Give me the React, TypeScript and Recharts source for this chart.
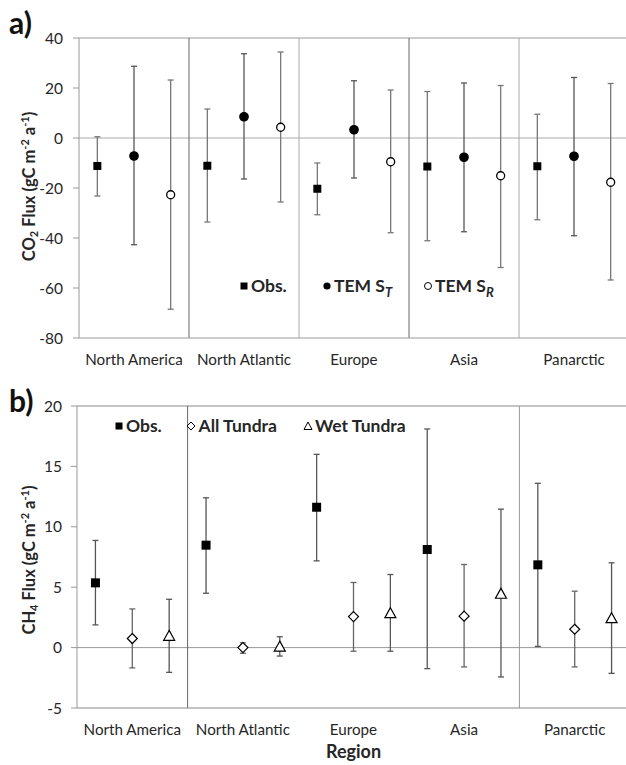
import React from 'react';
import { ScatterChart, Scatter, XAxis, YAxis, ErrorBar, ReferenceLine } from 'recharts';

const regions = ['North America', 'North Atlantic', 'Europe', 'Asia', 'Panarctic'];

// Panel a: CO2 flux
const co2Ticks = [-80, -60, -40, -20, 0, 20, 40];
const co2Obs = [-11.2, -11.1, -20.3, -11.4, -11.3];
const co2ObsLow = [-23.2, -33.6, -30.7, -41.1, -32.7];
const co2ObsHigh = [0.5, 11.6, -10.0, 18.6, 9.5];
const co2TemST = [-7.2, 8.5, 3.3, -7.7, -7.3];
const co2TemSTLow = [-42.7, -16.4, -16.0, -37.5, -39.1];
const co2TemSTHigh = [28.7, 33.7, 22.9, 22.0, 24.2];
const co2TemSR = [-22.7, 4.3, -9.5, -15.1, -17.7];
const co2TemSRLow = [-68.5, -25.6, -37.9, -51.8, -56.8];
const co2TemSRHigh = [23.2, 34.4, 19.2, 21.0, 21.8];

// Panel b: CH4 flux
const ch4Ticks = [-5, 0, 5, 10, 15, 20];
const ch4Obs = [5.36, 8.48, 11.62, 8.12, 6.85];
const ch4ObsLow = [1.88, 4.5, 7.18, -1.74, 0.1];
const ch4ObsHigh = [8.87, 12.4, 16.0, 18.1, 13.6];
const ch4All = [0.75, 0.0, 2.57, 2.6, 1.52];
const ch4AllLow = [-1.68, -0.47, -0.3, -1.6, -1.6];
const ch4AllHigh = [3.2, 0.4, 5.39, 6.88, 4.67];
const ch4Wet = [0.97, 0.08, 2.84, 4.45, 2.43];
const ch4WetLow = [-2.05, -0.7, -0.3, -2.43, -2.13];
const ch4WetHigh = [4.0, 0.9, 6.05, 11.46, 7.02];

const FONT = 'Lato, "Open Sans", sans-serif';
const TEXT = '#262626';

function build(values: number[], lows: number[], highs: number[], offset: number) {
  return values.map((v, i) => ({ x: i + offset, y: v, err: [v - lows[i], highs[i] - v] }));
}

const squareShape = (size: number) => (p: any) => (
  <rect x={p.cx - size / 2} y={p.cy - size / 2} width={size} height={size} fill="#000" />
);
const dotShape = (r: number, filled: boolean) => (p: any) => (
  <circle cx={p.cx} cy={p.cy} r={r} fill={filled ? '#000' : '#fff'} stroke="#000" strokeWidth={1.3} />
);
const diamondShape = (r: number) => (p: any) => (
  <path
    d={`M${p.cx},${p.cy - r}L${p.cx + r},${p.cy}L${p.cx},${p.cy + r}L${p.cx - r},${p.cy}Z`}
    fill="#fff"
    stroke="#000"
    strokeWidth={1.2}
  />
);
const triangleShape = (r: number) => (p: any) => (
  <path
    d={`M${p.cx},${p.cy - r}L${p.cx + r},${p.cy + r * 0.8}L${p.cx - r},${p.cy + r * 0.8}Z`}
    fill="#fff"
    stroke="#000"
    strokeWidth={1.2}
  />
);

const xTickStyle = { fontSize: 15.2, fill: TEXT, fontFamily: FONT };
const yTickStyle = { fontSize: 15.5, fill: TEXT, fontFamily: FONT };

function PanelA() {
  return (
    <ScatterChart width={640} height={375} margin={{ top: 38, right: 11, bottom: 7, left: 0 }}>
      <XAxis
        type="number"
        dataKey="x"
        domain={[-0.5, 4.5]}
        ticks={[0, 1, 2, 3, 4]}
        interval={0}
        tickFormatter={(v: number) => regions[v]}
        axisLine={{ stroke: '#999' }}
        tickLine={false}
        tickMargin={10}
        tick={xTickStyle}
        height={30}
        allowDataOverflow
      />
      <YAxis
        type="number"
        dataKey="y"
        domain={[-80, 40]}
        ticks={co2Ticks}
        interval={0}
        width={79}
        axisLine={{ stroke: '#999' }}
        tickLine={{ stroke: '#999' }}
        tickSize={6}
        tickMargin={10}
        tick={yTickStyle}
        allowDataOverflow
      />
      <ReferenceLine y={40} stroke="#999" />
      <ReferenceLine y={0} stroke="#aaa" />
      <ReferenceLine x={0.5} stroke="#666" />
      <ReferenceLine x={1.5} stroke="#aaa" />
      <ReferenceLine x={2.5} stroke="#666" />
      <ReferenceLine x={3.5} stroke="#aaa" />
      <Scatter data={build(co2Obs, co2ObsLow, co2ObsHigh, -1 / 3)} shape={squareShape(8)} isAnimationActive={false}>
        <ErrorBar dataKey="err" direction="y" width={3} stroke="#777" strokeWidth={1.3} />
      </Scatter>
      <Scatter data={build(co2TemST, co2TemSTLow, co2TemSTHigh, 0)} shape={dotShape(4.2, true)} isAnimationActive={false}>
        <ErrorBar dataKey="err" direction="y" width={3} stroke="#555" strokeWidth={1.3} />
      </Scatter>
      <Scatter data={build(co2TemSR, co2TemSRLow, co2TemSRHigh, 1 / 3)} shape={dotShape(4, false)} isAnimationActive={false}>
        <ErrorBar dataKey="err" direction="y" width={3} stroke="#777" strokeWidth={1.3} />
      </Scatter>
    </ScatterChart>
  );
}

function PanelB() {
  return (
    <ScatterChart width={640} height={390} margin={{ top: 31, right: 10, bottom: 7, left: 0 }}>
      <XAxis
        type="number"
        dataKey="x"
        domain={[-0.5, 4.5]}
        ticks={[0, 1, 2, 3, 4]}
        interval={0}
        tickFormatter={(v: number) => regions[v]}
        axisLine={{ stroke: '#888' }}
        tickLine={false}
        tickMargin={10}
        tick={xTickStyle}
        height={50}
        allowDataOverflow
        label={{ value: 'Region', position: 'insideBottom', offset: 0, fill: TEXT, fontSize: 18, fontWeight: 700, fontFamily: FONT }}
      />
      <YAxis
        type="number"
        dataKey="y"
        domain={[-5, 20]}
        ticks={ch4Ticks}
        interval={0}
        width={77}
        axisLine={{ stroke: '#999' }}
        tickLine={{ stroke: '#999' }}
        tickSize={6}
        tickMargin={9}
        tick={yTickStyle}
        allowDataOverflow
      />
      <ReferenceLine y={20} stroke="#888" />
      <ReferenceLine y={0} stroke="#999" />
      <ReferenceLine x={0.5} stroke="#666" />
      <ReferenceLine x={3.5} stroke="#999" />
      <Scatter data={build(ch4Obs, ch4ObsLow, ch4ObsHigh, -1 / 3)} shape={squareShape(9)} isAnimationActive={false}>
        <ErrorBar dataKey="err" direction="y" width={3} stroke="#555" strokeWidth={1.3} />
      </Scatter>
      <Scatter data={build(ch4All, ch4AllLow, ch4AllHigh, 0)} shape={diamondShape(5)} isAnimationActive={false}>
        <ErrorBar dataKey="err" direction="y" width={3} stroke="#666" strokeWidth={1.3} />
      </Scatter>
      <Scatter data={build(ch4Wet, ch4WetLow, ch4WetHigh, 1 / 3)} shape={triangleShape(5.5)} isAnimationActive={false}>
        <ErrorBar dataKey="err" direction="y" width={3} stroke="#555" strokeWidth={1.3} />
      </Scatter>
    </ScatterChart>
  );
}

const legendText: React.CSSProperties = {
  position: 'absolute',
  fontFamily: FONT,
  fontWeight: 700,
  fontSize: 17.5,
  color: TEXT,
  lineHeight: '20px',
  whiteSpace: 'nowrap',
};

function LegendItem({ x, y, marker, children }: { x: number; y: number; marker: React.ReactNode; children: React.ReactNode }) {
  return (
    <>
      <svg style={{ position: 'absolute', left: x - 6, top: y - 6 }} width={12} height={12}>
        {marker}
      </svg>
      <div style={{ ...legendText, left: x + 7.5, top: y - 10 }}>{children}</div>
    </>
  );
}

const sub: React.CSSProperties = { fontSize: 13, fontStyle: 'italic', verticalAlign: 'sub', lineHeight: 0 };

export default function App() {
  return (
    <div style={{ position: 'absolute', left: 0, top: 0, width: 626, height: 765, overflow: 'hidden', background: '#fff' }}>
      <div style={{ position: 'absolute', left: 0, top: 0 }}>
        <PanelA />
      </div>
      <div style={{ position: 'absolute', left: 0, top: 375 }}>
        <PanelB />
      </div>
      <svg style={{ position: 'absolute', left: 0, top: 0 }} width={60} height={765}>
        <text x={9} y={34} fontFamily={FONT} fontWeight={700} fontSize={30} fill="#111">a)</text>
        <text x={9} y={412} fontFamily={FONT} fontWeight={700} fontSize={30} fill="#111">b)</text>
        <text
          transform="translate(35,186.5) rotate(-90)"
          textAnchor="middle"
          fontFamily={FONT}
          fontWeight={700}
          fontSize={16.5}
          fill={TEXT}
        >
          CO<tspan fontSize={11} dy={3}>2</tspan>
          <tspan dy={-3}> Flux (gC m</tspan>
          <tspan fontSize={11} dy={-6}>-2</tspan>
          <tspan dy={6}> a</tspan>
          <tspan fontSize={11} dy={-6}>-1</tspan>
          <tspan dy={6}>)</tspan>
        </text>
        <text
          transform="translate(35,560) rotate(-90)"
          textAnchor="middle"
          fontFamily={FONT}
          fontWeight={700}
          fontSize={16.5}
          fill={TEXT}
        >
          CH<tspan fontSize={11} dy={3}>4</tspan>
          <tspan dy={-3}> Flux (gC m</tspan>
          <tspan fontSize={11} dy={-6}>-2</tspan>
          <tspan dy={6}> a</tspan>
          <tspan fontSize={11} dy={-6}>-1</tspan>
          <tspan dy={6}>)</tspan>
        </text>
      </svg>
      {/* Legend a */}
      <LegendItem x={243.5} y={286} marker={<rect x={2.5} y={2.5} width={7} height={7} fill="#000" />}>Obs.</LegendItem>
      <LegendItem x={326.5} y={286} marker={<circle cx={6} cy={6} r={3.6} fill="#000" />}>
        TEM S<span style={sub}>T</span>
      </LegendItem>
      <LegendItem x={427.5} y={286} marker={<circle cx={6} cy={6} r={3.5} fill="#fff" stroke="#000" strokeWidth={1} />}>
        TEM S<span style={sub}>R</span>
      </LegendItem>
      {/* Legend b */}
      <LegendItem x={118.5} y={426} marker={<rect x={2.5} y={2.5} width={7} height={7} fill="#000" />}>Obs.</LegendItem>
      <LegendItem x={191} y={426} marker={<path d="M6,2L10,6L6,10L2,6Z" fill="#fff" stroke="#000" strokeWidth={1} />}>All Tundra</LegendItem>
      <LegendItem x={307.5} y={426} marker={<path d="M6,2L10,9.5L2,9.5Z" fill="#fff" stroke="#000" strokeWidth={1} />}>Wet Tundra</LegendItem>
    </div>
  );
}
